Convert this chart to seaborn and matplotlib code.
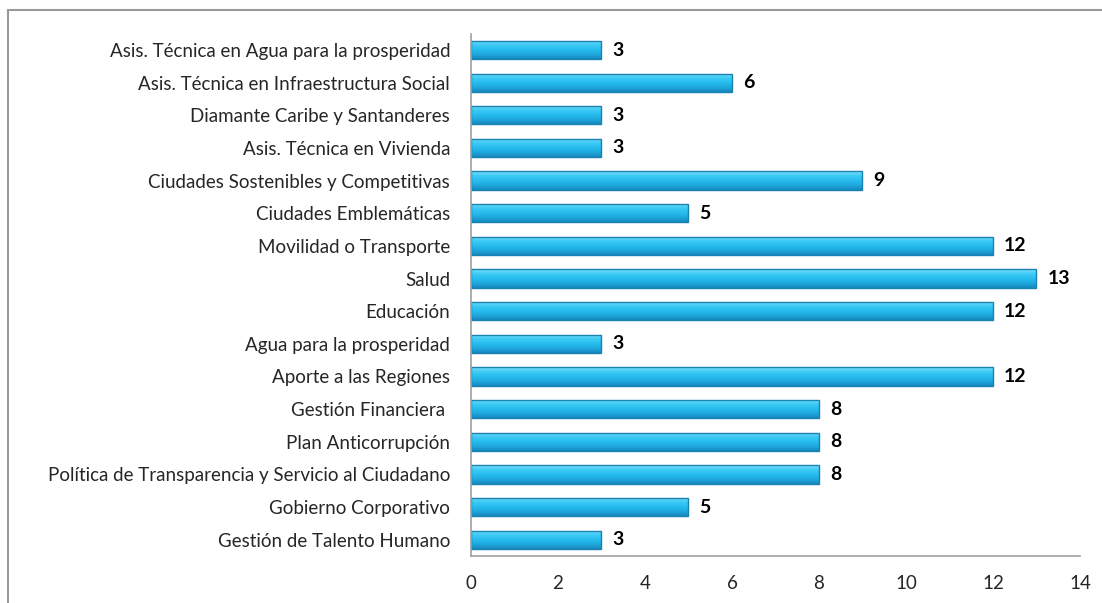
import numpy as np
import pandas as pd
import matplotlib.pyplot as plt
import seaborn as sns
from matplotlib.lines import Line2D
from matplotlib.colors import LinearSegmentedColormap

categorias = [
    "Asis. Técnica en Agua para la prosperidad",
    "Asis. Técnica en Infraestructura Social",
    "Diamante Caribe y Santanderes",
    "Asis. Técnica en Vivienda",
    "Ciudades Sostenibles y Competitivas",
    "Ciudades Emblemáticas",
    "Movilidad o Transporte",
    "Salud",
    "Educación",
    "Agua para la prosperidad",
    "Aporte a las Regiones",
    "Gestión Financiera ",
    "Plan Anticorrupción",
    "Política de Transparencia y Servicio al Ciudadano",
    "Gobierno Corporativo",
    "Gestión de Talento Humano",
]
valores = [3, 6, 3, 3, 9, 5, 12, 13, 12, 3, 12, 8, 8, 8, 5, 3]

data = pd.DataFrame({"Categoria": categorias, "Valor": valores})

sns.set_style("white")
plt.rcParams['font.family'] = ['Lato', 'DejaVu Sans']

fig = plt.figure(figsize=(11.02, 6.03), dpi=100)
ax = fig.add_axes([0.4274, 0.078, 0.5526, 0.866])

sns.barplot(data=data, x="Valor", y="Categoria", color="#26bdee",
            edgecolor="#1a82b0", linewidth=1.0, width=0.56, saturation=1, ax=ax)

# degradado vertical dentro de cada barra (claro arriba, oscuro abajo)
cmap = LinearSegmentedColormap.from_list(
    "bev", ["#7fe0fb", "#3ccaf5", "#27bdee", "#1fa9de", "#1788c0"])
grad = np.linspace(0, 1, 64).reshape(-1, 1)
for p in ax.patches:
    x, y = p.get_x(), p.get_y()
    w, h = p.get_width(), p.get_height()
    im = ax.imshow(grad, cmap=cmap, aspect="auto",
                   extent=(x, x + w, y + h, y), origin="upper",
                   zorder=p.get_zorder() + 0.05)
    im.set_clip_path(p)
    p.set_facecolor("none")
    p.set_zorder(p.get_zorder() + 0.1)

for i, v in enumerate(valores):
    ax.text(v + 0.25, i, str(v), va="center", ha="left", fontsize=14,
            fontweight="bold", color="black")

ax.set_xlim(0, 14)
ax.set_ylim(15.5, -0.5)
ax.set_aspect("auto")
ax.set_xticks(range(0, 15, 2))
ax.set_xlabel("")
ax.set_ylabel("")
ax.tick_params(axis="x", labelsize=13.5, pad=14, length=0)
ax.tick_params(axis="y", labelsize=13.5, pad=15, length=0)
for s in ["top", "right"]:
    ax.spines[s].set_visible(False)
for s in ["left", "bottom"]:
    ax.spines[s].set_color("#a0a0a0")
    ax.spines[s].set_linewidth(1.2)

# marco exterior del gráfico
fig.add_artist(Line2D([8 / 1102, 8 / 1102], [0, 1 - 10 / 603], color="#9a9a9a", lw=1.5))
fig.add_artist(Line2D([8 / 1102, 1], [1 - 10 / 603, 1 - 10 / 603], color="#9a9a9a", lw=1.5))

plt.savefig("out.png", dpi=100)
